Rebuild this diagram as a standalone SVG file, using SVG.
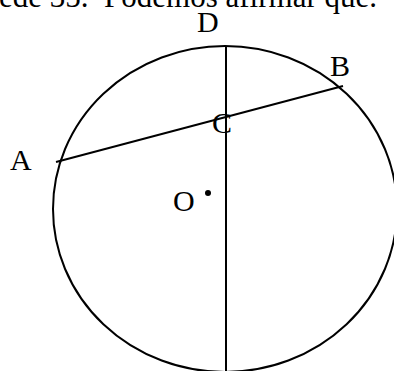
<svg xmlns="http://www.w3.org/2000/svg" width="394" height="371" viewBox="0 0 394 371">
<style>
.lbl{font-family:"Liberation Serif","Times New Roman",serif;font-size:30px;fill:#000}
.top{font-family:"Liberation Serif","Times New Roman",serif;font-size:31px;fill:#000}
.ln{stroke:#000;stroke-width:2;fill:none}
</style>
<rect width="394" height="371" fill="#fff"/>
<text class="top" x="377" y="7" text-anchor="end">ede 35.&#160; Podemos afirmar que.</text>
<g id="circle"><ellipse class="ln" cx="225" cy="209" rx="172" ry="163"/></g>
<g id="connectors">
<line class="ln" x1="226" y1="46" x2="226" y2="371"/>
<line class="ln" x1="56" y1="162" x2="343" y2="86"/>
</g>
<g id="D"><text class="lbl" x="197" y="32">D</text></g>
<g id="B"><text class="lbl" x="330" y="76">B</text></g>
<g id="A"><text class="lbl" x="10" y="170">A</text></g>
<g id="C"><text class="lbl" x="212" y="133">C</text></g>
<g id="O"><text class="lbl" x="173" y="211">O</text><circle cx="208" cy="193" r="3" fill="#000"/></g>
</svg>
